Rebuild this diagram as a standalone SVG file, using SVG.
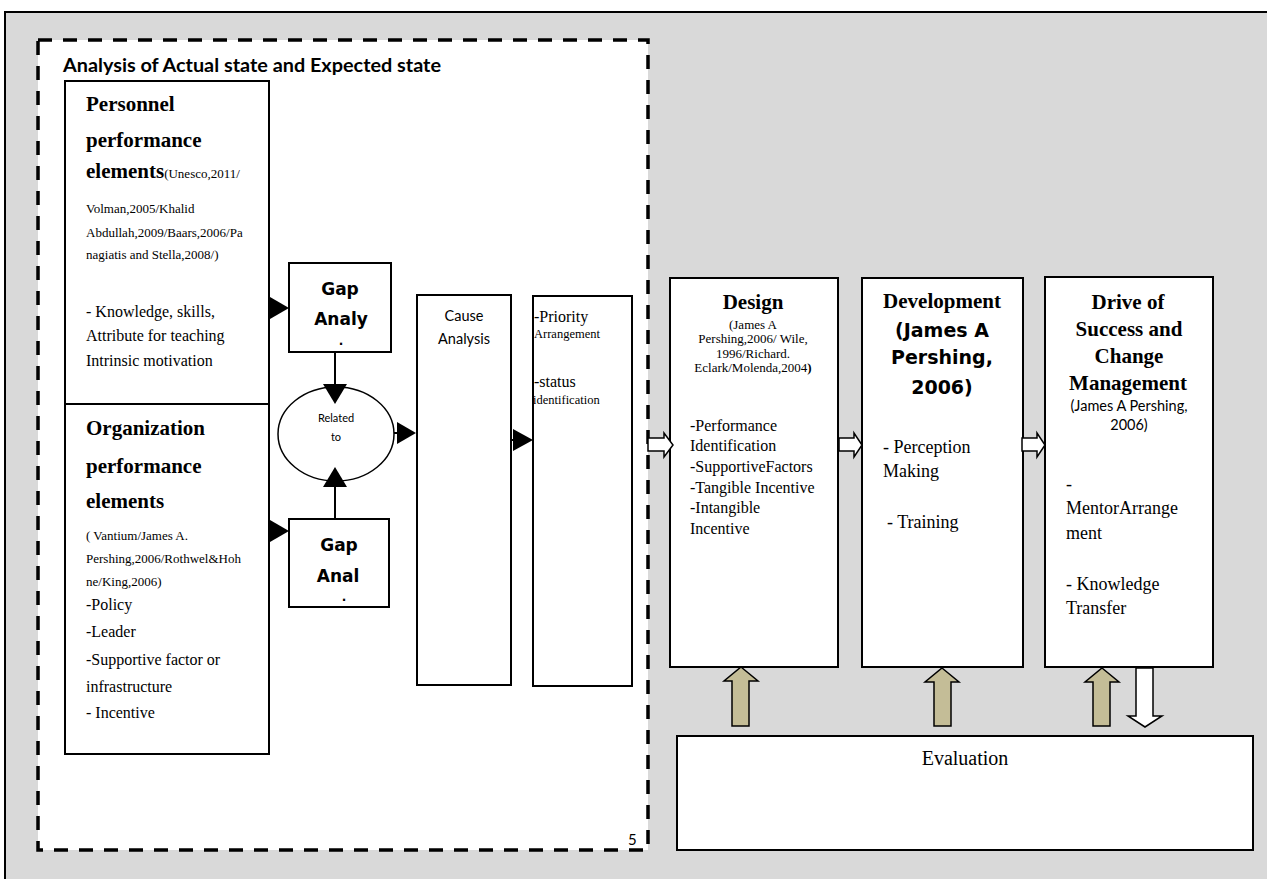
<svg xmlns="http://www.w3.org/2000/svg" width="1267" height="879" viewBox="0 0 1267 879">
<style>
.box{fill:#fff;stroke:#000;stroke-width:2}
.tnr{font-family:"Liberation Serif","Times New Roman",serif;fill:#000}
.cal{font-family:Lato,"Liberation Sans",sans-serif;fill:#000}
.hvy{font-family:"DejaVu Sans",sans-serif;font-weight:bold;fill:#000}
.b{font-weight:bold}
.mid{text-anchor:middle}
.ln{stroke:#000;stroke-width:2;fill:none}
.head{fill:#000}
.blk{fill:#fff;stroke:#000;stroke-width:1.5}
.tan{fill:#c4bd97;stroke:#000;stroke-width:1.5}
</style>
<rect x="0" y="0" width="1267" height="879" fill="#fff"/>
<rect id="frame" x="5" y="12" width="1280" height="880" fill="#d9d9d9" stroke="#000" stroke-width="2"/>
<g id="analysis-region">
<rect x="38" y="40" width="610" height="810" fill="#fff" stroke="#000" stroke-width="3.5" stroke-dasharray="14 11"/>
<text class="cal b" x="63" y="72" font-size="18" textLength="378" lengthAdjust="spacingAndGlyphs">Analysis of Actual state and Expected state</text>
<text class="cal" x="628" y="845" font-size="15" fill="#444">5</text>
</g>
<g id="personnel">
<rect class="box" x="65" y="81" width="204" height="323"/>
<text class="tnr b" x="86" y="111" font-size="21">Personnel</text>
<text class="tnr b" x="86" y="147" font-size="21">performance</text>
<text class="tnr" x="86" y="178" font-size="21"><tspan font-weight="bold">elements</tspan><tspan font-size="13">(Unesco,2011/</tspan></text>
<text class="tnr" x="86" y="213" font-size="13">Volman,2005/Khalid</text>
<text class="tnr" x="86" y="237" font-size="13">Abdullah,2009/Baars,2006/Pa</text>
<text class="tnr" x="86" y="259" font-size="13">nagiatis and Stella,2008/)</text>
<text class="tnr" x="86" y="317" font-size="16">- Knowledge, skills,</text>
<text class="tnr" x="86" y="341" font-size="16">Attribute for teaching</text>
<text class="tnr" x="86" y="366" font-size="16">Intrinsic motivation</text>
</g>
<g id="organization">
<rect class="box" x="65" y="404" width="204" height="350"/>
<text class="tnr b" x="86" y="435" font-size="21">Organization</text>
<text class="tnr b" x="86" y="473" font-size="21">performance</text>
<text class="tnr b" x="86" y="508" font-size="21">elements</text>
<text class="tnr" x="86" y="540" font-size="13">( Vantium/James A.</text>
<text class="tnr" x="86" y="563" font-size="13">Pershing,2006/Rothwel&amp;Hoh</text>
<text class="tnr" x="86" y="586" font-size="13">ne/King,2006)</text>
<text class="tnr" x="86" y="610" font-size="16">-Policy</text>
<text class="tnr" x="86" y="637" font-size="16">-Leader</text>
<text class="tnr" x="86" y="665" font-size="16">-Supportive factor or</text>
<text class="tnr" x="86" y="692" font-size="16">infrastructure</text>
<text class="tnr" x="86" y="718" font-size="16">- Incentive</text>
</g>
<g id="gap1">
<rect class="box" x="289" y="263" width="102" height="89"/>
<text class="hvy mid" x="340" y="295" font-size="17">Gap</text>
<text class="hvy mid" x="341" y="325" font-size="17">Analy</text>
<text class="hvy mid" x="341" y="345" font-size="12">.</text>
</g>
<g id="gap2">
<rect class="box" x="289" y="519" width="100" height="88"/>
<text class="hvy mid" x="339" y="551" font-size="17">Gap</text>
<text class="hvy mid" x="338" y="582" font-size="17">Anal</text>
<text class="hvy mid" x="344" y="601" font-size="12">.</text>
</g>
<g id="related">
<ellipse cx="336" cy="434" rx="58" ry="47" fill="#fff" stroke="#000" stroke-width="1.5"/>
<text class="cal mid" x="336" y="422" font-size="11" fill="#333">Related</text>
<text class="cal mid" x="336" y="441" font-size="11" fill="#333">to</text>
</g>
<g id="cause">
<rect class="box" x="417" y="295" width="94" height="390"/>
<text class="cal mid" x="464" y="321" font-size="14.5">Cause</text>
<text class="cal mid" x="464" y="344" font-size="14.5">Analysis</text>
</g>
<g id="priority">
<rect class="box" x="533" y="296" width="99" height="390"/>
<text class="tnr" x="534" y="322" font-size="16">-Priority</text>
<text class="tnr" x="534" y="338" font-size="12.5">Arrangement</text>
<text class="tnr" x="534" y="387" font-size="16">-status</text>
<text class="tnr" x="533" y="404" font-size="12.5">identification</text>
</g>
<g id="design">
<rect class="box" x="670" y="278" width="168" height="389"/>
<text class="tnr b mid" x="753" y="309" font-size="21">Design</text>
<text class="tnr mid" x="753" y="329" font-size="13">(James A</text>
<text class="tnr mid" x="753" y="343" font-size="13">Pershing,2006/ Wile,</text>
<text class="tnr mid" x="753" y="358" font-size="13">1996/Richard.</text>
<text class="tnr mid" x="753" y="372" font-size="13">Eclark/Molenda,2004<tspan font-weight="bold">)</tspan></text>
<text class="tnr" x="690" y="431" font-size="16">-Performance</text>
<text class="tnr" x="690" y="451" font-size="16">Identification</text>
<text class="tnr" x="690" y="472" font-size="16">-SupportiveFactors</text>
<text class="tnr" x="690" y="493" font-size="16">-Tangible Incentive</text>
<text class="tnr" x="690" y="513" font-size="16">-Intangible</text>
<text class="tnr" x="690" y="534" font-size="16">Incentive</text>
</g>
<g id="development">
<rect class="box" x="862" y="278" width="161" height="389"/>
<text class="tnr b mid" x="942" y="308" font-size="21">Development</text>
<text class="hvy mid" x="942" y="337" font-size="19">(James A</text>
<text class="hvy mid" x="942" y="364" font-size="19">Pershing,</text>
<text class="hvy mid" x="942" y="394" font-size="19">2006)</text>
<text class="tnr" x="883" y="453" font-size="18">- Perception</text>
<text class="tnr" x="883" y="477" font-size="18">Making</text>
<text class="tnr" x="887" y="528" font-size="18">- Training</text>
</g>
<g id="drive">
<rect class="box" x="1045" y="277" width="168" height="390"/>
<text class="tnr b mid" x="1128" y="309" font-size="21">Drive of</text>
<text class="tnr b mid" x="1129" y="336" font-size="21">Success and</text>
<text class="tnr b mid" x="1129" y="363" font-size="21">Change</text>
<text class="tnr b mid" x="1128" y="390" font-size="21">Management</text>
<text class="cal mid" x="1129" y="411" font-size="14.5">(James A Pershing,</text>
<text class="cal mid" x="1129" y="430" font-size="14.5">2006)</text>
<text class="tnr" x="1066" y="490" font-size="18">-</text>
<text class="tnr" x="1066" y="514" font-size="18">MentorArrange</text>
<text class="tnr" x="1066" y="539" font-size="18">ment</text>
<text class="tnr" x="1066" y="590" font-size="18">- Knowledge</text>
<text class="tnr" x="1066" y="614" font-size="18">Transfer</text>
</g>
<g id="evaluation">
<rect class="box" x="677" y="736" width="576" height="114"/>
<text class="tnr mid" x="965" y="765" font-size="20">Evaluation</text>
</g>
<g id="connectors">
<line class="ln" x1="269" y1="308" x2="272" y2="308"/>
<polygon class="head" points="270,297 289,308 270,319"/>
<line class="ln" x1="269" y1="531" x2="272" y2="531"/>
<polygon class="head" points="270,520 289,531 270,542"/>
<line class="ln" x1="335" y1="352" x2="335" y2="386"/>
<polygon class="head" points="323,384 347,384 335,404"/>
<line class="ln" x1="335" y1="519" x2="335" y2="486"/>
<polygon class="head" points="323,487 347,487 335,467"/>
<line class="ln" x1="394" y1="433" x2="398" y2="433"/>
<polygon class="head" points="397,422 416,433 397,444"/>
<line class="ln" x1="511" y1="440" x2="514" y2="440"/>
<polygon class="head" points="513,429 533,440 513,451"/>
<polygon class="blk" points="648,438 664,438 664,433 673,445 664,457 664,451 648,451"/>
<polygon class="blk" points="839,438 854,438 854,433 862,445 854,457 854,451 839,451"/>
<polygon class="blk" points="1022,438 1037,438 1037,433 1045,445 1037,457 1037,451 1022,451"/>
<polygon class="tan" points="741,667 758,681 749,681 749,726 732,726 732,681 724,681"/>
<polygon class="tan" points="942,668 959,682 951,682 951,726 934,726 934,682 925,682"/>
<polygon class="tan" points="1102,668 1119,682 1110,682 1110,726 1093,726 1093,682 1085,682"/>
<polygon class="blk" points="1136,668 1153,668 1153,716 1162,716 1145,727 1128,716 1136,716"/>
</g>
</svg>
